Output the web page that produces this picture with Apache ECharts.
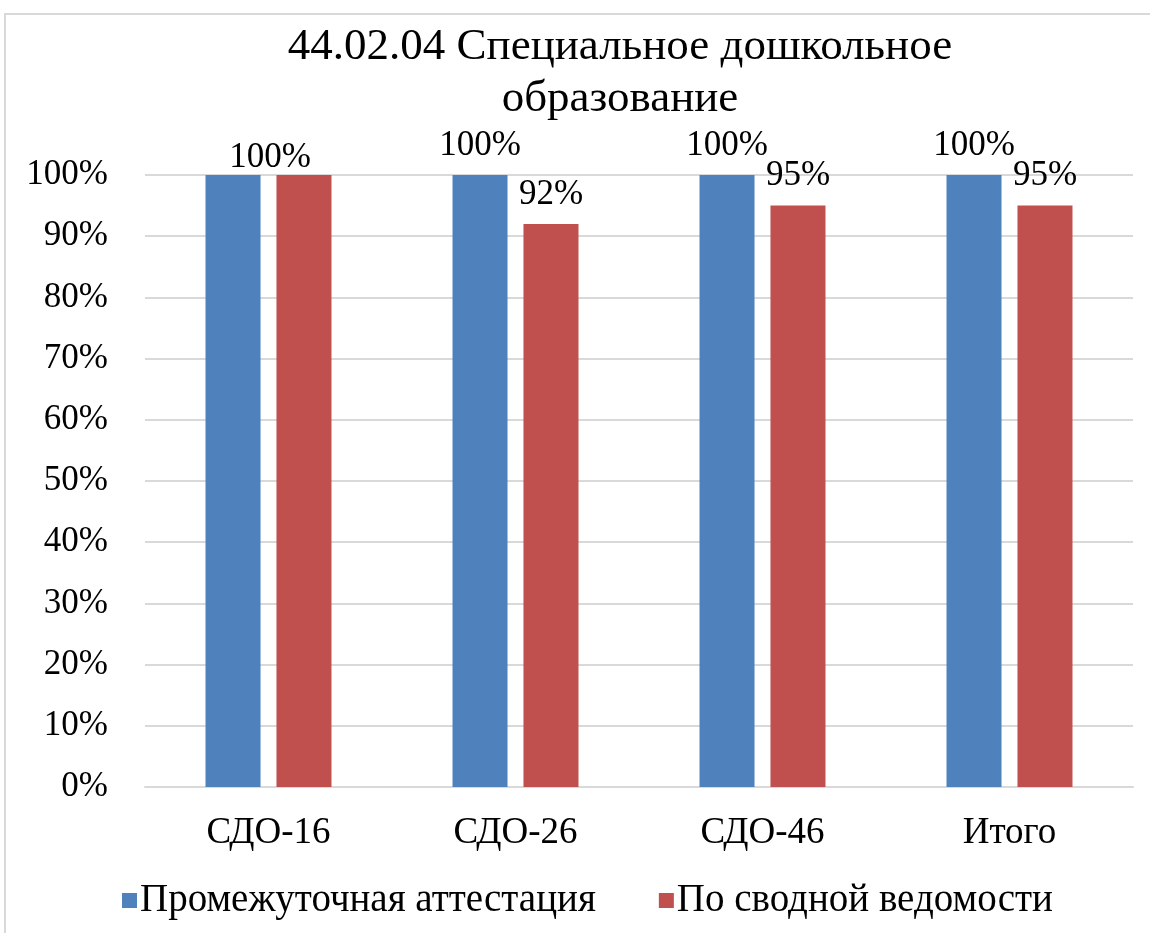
<!DOCTYPE html>
<html>
<head>
<meta charset="utf-8">
<style>
html,body{margin:0;padding:0;background:#fff;}
#chart{width:1150px;height:933px;}
</style>
</head>
<body>
<div id="chart"></div>
<script src="https://cdn.jsdelivr.net/npm/echarts@6/dist/echarts.min.js"></script>
<script>
var titleText = '44.02.04 Специальное дошкольное\nобразование';
var categories = ['СДО-16', 'СДО-26', 'СДО-46', 'Итого'];
var seriesNames = ['Промежуточная аттестация', 'По сводной ведомости'];
var interimValues = [1, 1, 1, 1];
var summaryValues = [1, 0.92, 0.95, 0.95];

var font = "'Liberation Serif', 'Times New Roman', serif";
var chart = echarts.init(document.getElementById('chart'));

function pct(v) {
    return Math.round(v * 100) + '%';
}

var labelStyle = {
    show: true,
    position: 'top',
    distance: 12,
    fontFamily: font,
    fontSize: 35,
    color: '#000',
    formatter: function (p) { return pct(p.value); }
};

// first category: the two 100% labels overlap, only one is shown between the bars
var interimData = interimValues.map(function (v, i) {
    return i === 0 ? { value: v, label: { show: false } } : v;
});
var summaryData = summaryValues.map(function (v, i) {
    return i === 0 ? { value: v, label: { offset: [-34, 12] } } : v;
});

var option = {
    backgroundColor: '#fff',
    color: ['#4F81BD', '#C0504D'],
    animation: false,
    title: {
        text: titleText,
        left: 615,
        top: 16,
        textAlign: 'center',
        textStyle: {
            fontFamily: font,
            fontSize: 45,
            fontWeight: 'normal',
            lineHeight: 52,
            color: '#000'
        }
    },
    graphic: [{
        type: 'rect',
        shape: { x: 5, y: 14, width: 1200, height: 1000 },
        style: { fill: 'none', stroke: '#d9d9d9', lineWidth: 2 },
        silent: true
    }],
    legend: {
        data: seriesNames,
        left: 117,
        top: 876,
        itemWidth: 15,
        itemHeight: 15,
        itemGap: 63,
        icon: 'rect',
        textStyle: { fontFamily: font, fontSize: 39, color: '#000', padding: [0, 0, 0, -2] }
    },
    grid: {
        left: 145,
        right: 17,
        top: 175,
        bottom: 146
    },
    xAxis: {
        type: 'category',
        data: categories,
        axisTick: { show: false },
        axisLine: { lineStyle: { color: '#d9d9d9', width: 2 } },
        axisLabel: {
            fontFamily: font,
            fontSize: 37,
            color: '#000',
            margin: 28
        }
    },
    yAxis: {
        type: 'value',
        min: 0,
        max: 1,
        interval: 0.1,
        axisLine: { show: false },
        axisTick: { show: false },
        splitLine: { lineStyle: { color: '#d9d9d9', width: 2 } },
        axisLabel: {
            fontFamily: font,
            fontSize: 35,
            color: '#000',
            margin: 37,
            formatter: pct
        }
    },
    series: [
        {
            name: seriesNames[0],
            type: 'bar',
            data: interimData,
            barGap: '29%',
            barCategoryGap: '49%',
            label: labelStyle
        },
        {
            name: seriesNames[1],
            type: 'bar',
            data: summaryData,
            barGap: '29%',
            barCategoryGap: '49%',
            label: labelStyle
        }
    ]
};

chart.setOption(option);
</script>
</body>
</html>
